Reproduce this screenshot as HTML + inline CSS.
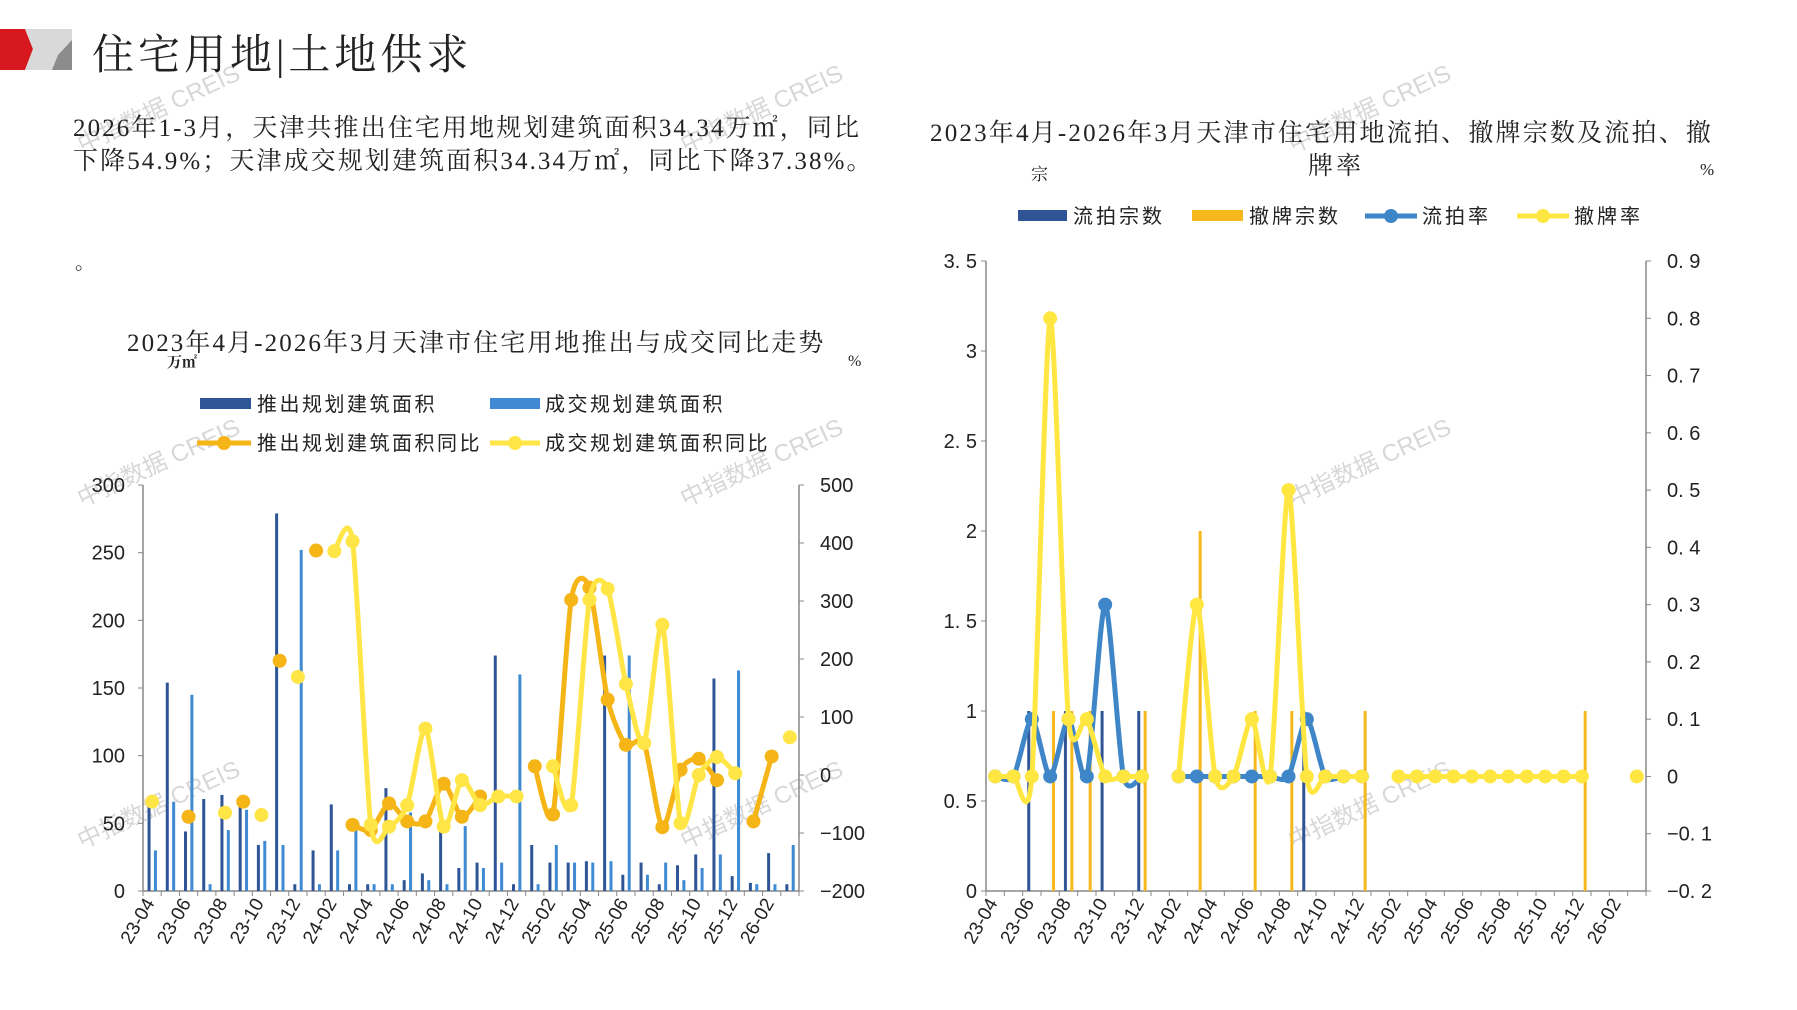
<!DOCTYPE html>
<html><head><meta charset="utf-8">
<style>
html,body{margin:0;padding:0;background:#fff;}
body{width:1797px;height:1010px;position:relative;overflow:hidden;font-family:"Liberation Serif","Noto Serif CJK SC",serif;color:#222;}
.t{position:absolute;white-space:nowrap;}
svg{position:absolute;left:0;top:0;}
</style></head><body>
<svg id="s" width="1797" height="1010" viewBox="0 0 1797 1010">
<polygon points="0,29 25,29 33,49 25,70 0,70" fill="#d7181f"/>
<polygon points="25,29 72,29 72,70 25,70 33,49" fill="#d9d9d9"/>
<polygon points="72,40 72,70 52,70 58,55" fill="#8c8c8c"/>
<g id="g"></g>
</svg>
<div class="t" style="left:92px;top:22px;font-size:42px;letter-spacing:4px;">住宅用地|土地供求</div>
<div class="t" style="left:73px;top:112px;font-size:25px;line-height:33px;letter-spacing:2.1px;">2026年1-3月，天津共推出住宅用地规划建筑面积34.34万㎡，同比<br>下降54.9%；天津成交规划建筑面积34.34万㎡，同比下降37.38%。</div>
<div class="t" style="left:75px;top:246px;font-size:20px;">。</div>
<div class="t" style="left:127px;top:323px;font-size:25px;letter-spacing:2.1px;">2023年4月-2026年3月天津市住宅用地推出与成交同比走势</div>
<div class="t" style="left:167px;top:351px;font-size:15px;font-weight:bold;">万㎡</div>
<div class="t" style="left:848px;top:353px;font-size:16px;">%</div>
<div class="t" style="left:930px;top:113px;font-size:25px;letter-spacing:2.2px;">2023年4月-2026年3月天津市住宅用地流拍、撤牌宗数及流拍、撤</div>
<div class="t" style="left:1308px;top:146px;font-size:25px;letter-spacing:3px;">牌率</div>
<div class="t" style="left:1031px;top:160px;font-size:17px;">宗</div>
<div class="t" style="left:1700px;top:160px;font-size:17px;">%</div>
<script>
const g=document.getElementById('g');let h='';
function T(x,y,s,o){o=o||{};h+=`<text x="${x}" y="${y}" font-size="${o.fs||20}" text-anchor="${o.a||'start'}" fill="${o.c||'#222'}" ${o.tr?`transform="${o.tr}"`:''} font-family="Liberation Sans,Noto Sans CJK SC,sans-serif" ${o.ls?`letter-spacing="${o.ls}"`:''}>${s}</text>`;}
function cr(pts){
 if(pts.length<2)return '';let d=`M${pts[0][0]},${pts[0][1]}`;
 for(let i=0;i<pts.length-1;i++){const p0=pts[i-1]||pts[i],p1=pts[i],p2=pts[i+1],p3=pts[i+2]||p2;
 const k=8;const c1=[p1[0]+(p2[0]-p0[0])/k,p1[1]+(p2[1]-p0[1])/k],c2=[p2[0]-(p3[0]-p1[0])/k,p2[1]-(p3[1]-p1[1])/k];
 d+=` C${c1[0]},${c1[1]} ${c2[0]},${c2[1]} ${p2[0]},${p2[1]}`;}return d;}
function series(vals,fx,fy,col,w,r){let seg=[];const segs=[];vals.forEach((v,i)=>{if(v===null){if(seg.length)segs.push(seg);seg=[];}else seg.push([fx(i),fy(v)]);});if(seg.length)segs.push(seg);
 segs.forEach(s=>{if(s.length>1)h+=`<path d="${cr(s)}" fill="none" stroke="${col}" stroke-width="${w}" stroke-linejoin="round"/>`;});
 segs.forEach(s=>s.forEach(p=>{h+=`<circle cx="${p[0]}" cy="${p[1]}" r="${r}" fill="${col}"/>`;}));}
const labs=['23-04','23-06','23-08','23-10','23-12','24-02','24-04','24-06','24-08','24-10','24-12','25-02','25-04','25-06','25-08','25-10','25-12','26-02'];
[[162,116],[765,116],[1373,116],[162,470],[765,470],[1373,470],[162,812],[765,812],[1373,812]].forEach(p=>T(p[0],p[1],'中指数据 CREIS',{fs:24,a:'middle',c:'rgba(140,140,140,0.35)',tr:`rotate(-25 ${p[0]} ${p[1]})`}));
const YB=891,YT=485;
{const x0=143,x1=799,cw=(x1-x0)/36,yL=v=>YB-v*(YB-YT)/300,yR=p=>YB-(p+200)*(YB-YT)/700;
h+=`<line x1="${x0}" y1="${YT}" x2="${x0}" y2="${YB}" stroke="#888" stroke-width="1.5"/><line x1="${x1}" y1="${YT}" x2="${x1}" y2="${YB}" stroke="#888" stroke-width="1.5"/><line x1="${x0}" y1="${YB}" x2="${x1}" y2="${YB}" stroke="#888" stroke-width="1.5"/>`;
for(let v=0;v<=300;v+=50){T(125,yL(v)+7,v,{fs:20,a:'end'});h+=`<line x1="${x0-5}" y1="${yL(v)}" x2="${x0}" y2="${yL(v)}" stroke="#888"/>`;}
for(let p=-200;p<=500;p+=100){T(820,yR(p)+7,p<0?'−'+(-p):p,{fs:20});h+=`<line x1="${x1}" y1="${yR(p)}" x2="${x1+5}" y2="${yR(p)}" stroke="#888"/>`;}
for(let i=0;i<=36;i++)h+=`<line x1="${x0+cw*i}" y1="${YB}" x2="${x0+cw*i}" y2="${YB+5}" stroke="#888"/>`;
const dk=[62,154,44,68,71,63,34,279,5,30,64,5,5,76,8,13,50,17,21,174,5,34,21,21,22,174,12,21,5,19,27,157,11,6,28,5];
const lt=[30,66,145,5,45,60,37,34,252,5,30,50,5,5,58,8,5,48,17,21,160,5,34,21,21,22,174,12,21,8,17,27,163,5,5,34];
dk.forEach((v,i)=>h+=`<rect x="${x0+cw*(i+0.25)}" y="${yL(v)}" width="3" height="${YB-yL(v)}" fill="#2f5597"/>`);
lt.forEach((v,i)=>h+=`<rect x="${x0+cw*(i+0.6)}" y="${yL(v)}" width="3" height="${YB-yL(v)}" fill="#3f8ad2"/>`);
const N=null;
const yel=[-46,N,N,N,-65,N,-69,N,169,N,386,403,-86,-89,-52,80,-89,-9,-52,-37,-37,N,15,-52,302,321,157,55,259,-83,0,31,3,N,N,65];
const org=[N,N,-72,N,N,-46,N,197,N,387,N,-86,-95,-49,-80,-80,-15,-72,-37,N,N,15,-68,302,323,130,52,55,-90,9,28,-9,N,-80,32,N];
const fx=i=>x0+cw*(i+0.5);
series(org,fx,yR,'#f5b516',5,7);
series(yel,fx,yR,'#ffe545',5,7);
labs.forEach((l,k)=>{const x=fx(k*2)+3,y=YB+12;T(x,y,l,{fs:19,a:'end',tr:`rotate(-60 ${x} ${y})`});});
h+=`<rect x="200" y="398" width="51" height="11" fill="#2f5597"/><rect x="490" y="398" width="50" height="11" fill="#3f8ad2"/>`;
h+=`<line x1="197" y1="443" x2="251" y2="443" stroke="#f5b516" stroke-width="5"/><circle cx="224" cy="443" r="7" fill="#f5b516"/>`;
h+=`<line x1="490" y1="443" x2="540" y2="443" stroke="#ffe545" stroke-width="5"/><circle cx="515" cy="443" r="7" fill="#ffe545"/>`;
const o={fs:20,ls:2.5};
T(257,411,'推出规划建筑面积',o);T(545,411,'成交规划建筑面积',o);T(257,450,'推出规划建筑面积同比',o);T(545,450,'成交规划建筑面积同比',o);
}
{const x0=986,x1=1646,cw=(x1-x0)/36,yT=261,yL=v=>YB-v*(YB-yT)/3.5,yR=p=>YB-(p+0.2)*(YB-yT)/1.1;
h+=`<line x1="${x0}" y1="${yT}" x2="${x0}" y2="${YB}" stroke="#888" stroke-width="1.5"/><line x1="${x1}" y1="${yT}" x2="${x1}" y2="${YB}" stroke="#888" stroke-width="1.5"/><line x1="${x0}" y1="${YB}" x2="${x1}" y2="${YB}" stroke="#888" stroke-width="1.5"/>`;
['0','0. 5','1','1. 5','2','2. 5','3','3. 5'].forEach((s,k)=>{const y=yL(k*0.5);T(977,y+7,s,{fs:20,a:'end'});h+=`<line x1="${x0-5}" y1="${y}" x2="${x0}" y2="${y}" stroke="#888"/>`;});
['−0. 2','−0. 1','0','0. 1','0. 2','0. 3','0. 4','0. 5','0. 6','0. 7','0. 8','0. 9'].forEach((s,k)=>{const y=yR(-0.2+k*0.1);T(1667,y+7,s,{fs:20});h+=`<line x1="${x1}" y1="${y}" x2="${x1+5}" y2="${y}" stroke="#888"/>`;});
for(let i=0;i<=36;i++)h+=`<line x1="${x0+cw*i}" y1="${YB}" x2="${x0+cw*i}" y2="${YB+5}" stroke="#888"/>`;
[[2,1],[4,1],[6,1],[8,1],[17,1]].forEach(([i,v])=>h+=`<rect x="${x0+cw*(i+0.25)}" y="${yL(v)}" width="3" height="${YB-yL(v)}" fill="#2f5597"/>`);
[[3,1],[4,1],[5,1],[8,1],[11,2],[14,1],[16,1],[20,1],[32,1]].forEach(([i,v])=>h+=`<rect x="${x0+cw*(i+0.6)}" y="${yL(v)}" width="3" height="${YB-yL(v)}" fill="#f6b81c"/>`);
const N=null,fx=i=>x0+cw*(i+0.5);
const bl=[0,0,0.1,0,0.1,0,0.3,0,0,N,0,0,0,0,0,0,0,0.1,0,0,0];
const ye=[0,0,0,0.8,0.1,0.1,0,0,0,N,0,0.3,0,0,0.1,0,0.5,0,0,0,0,N,0,0,0,0,0,0,0,0,0,0,0,N,N,0];
series(bl,fx,yR,'#3f86c9',5,7);
series(ye,fx,yR,'#ffe640',5,7);
labs.forEach((l,k)=>{const x=fx(k*2)+3,y=YB+12;T(x,y,l,{fs:19,a:'end',tr:`rotate(-60 ${x} ${y})`});});
h+=`<rect x="1018" y="210" width="49" height="11" fill="#2f5597"/><rect x="1192" y="210" width="51" height="11" fill="#f6b81c"/>`;
h+=`<line x1="1365" y1="216" x2="1417" y2="216" stroke="#3f86c9" stroke-width="5"/><circle cx="1391" cy="216" r="7" fill="#3f86c9"/>`;
h+=`<line x1="1517" y1="216" x2="1569" y2="216" stroke="#ffe640" stroke-width="5"/><circle cx="1543" cy="216" r="7" fill="#ffe640"/>`;
T(1073,223,'流拍宗数',{fs:20,ls:3});T(1249,223,'撤牌宗数',{fs:20,ls:3});T(1422,223,'流拍率',{fs:20,ls:3});T(1574,223,'撤牌率',{fs:20,ls:3});
}
g.innerHTML=h;
</script>
</body></html>
